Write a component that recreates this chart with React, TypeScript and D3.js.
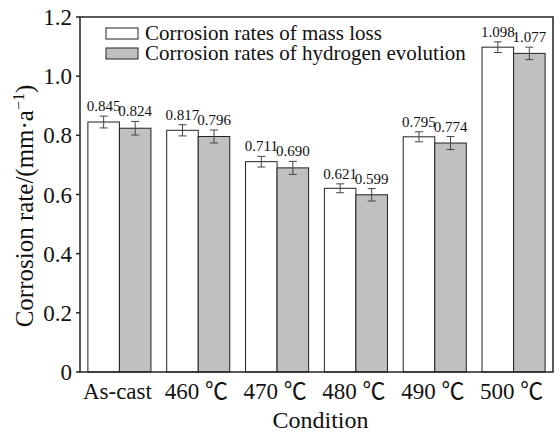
import React from "react";
import * as d3 from "d3";

// values
const conditions = ["As-cast", "460 ℃", "470 ℃", "480 ℃", "490 ℃", "500 ℃"];
const massLoss = [0.845, 0.817, 0.711, 0.621, 0.795, 1.098];
const massLossErr = [0.02, 0.019, 0.018, 0.015, 0.017, 0.018];
const hydrogen = [0.824, 0.796, 0.69, 0.599, 0.774, 1.077];
const hydrogenErr = [0.023, 0.022, 0.022, 0.021, 0.022, 0.021];
const seriesNames = [
  "Corrosion rates of mass loss",
  "Corrosion rates of hydrogen evolution",
];
const yTicks = [0, 0.2, 0.4, 0.6, 0.8, 1.0, 1.2];

const W = 560;
const H = 432;
const margin = { top: 17, right: 7, bottom: 60, left: 80 };
const serif = { fontFamily: "'Liberation Serif', 'Noto Sans CJK SC', serif" };

const App = () => {
  const innerW = W - margin.left - margin.right;
  const innerH = H - margin.top - margin.bottom;

  const x = d3
    .scaleBand()
    .domain(conditions)
    .range([0, innerW])
    .paddingInner(0.2)
    .paddingOuter(0.1);

  const xSub = d3
    .scaleBand()
    .domain(["mass", "hydrogen"])
    .range([0, x.bandwidth()]);

  const y = d3.scaleLinear().domain([0, 1.2]).range([innerH, 0]);

  const series = [
    { key: "mass", values: massLoss, errs: massLossErr, fill: "#ffffff" },
    { key: "hydrogen", values: hydrogen, errs: hydrogenErr, fill: "#c0c0c0" },
  ];

  return (
    <svg
      width={W}
      height={H}
      style={{ position: "absolute", left: 0, top: 0, background: "#fff" }}
    >
      <g transform={`translate(${margin.left},${margin.top})`}>
        {/* bars */}
        {series.map((s) =>
          conditions.map((c, i) => {
            const bx = x(c) + xSub(s.key);
            const bw = xSub.bandwidth();
            const cx = bx + bw / 2;
            const v = s.values[i];
            const e = s.errs[i];
            return (
              <g key={s.key + c}>
                <rect
                  x={bx}
                  y={y(v)}
                  width={bw}
                  height={innerH - y(v)}
                  fill={s.fill}
                  stroke="#222"
                  strokeWidth={1}
                />
                <g stroke="#444" strokeWidth={1}>
                  <line x1={cx} x2={cx} y1={y(v + e)} y2={y(v - e)} />
                  <line x1={cx - 4} x2={cx + 4} y1={y(v + e)} y2={y(v + e)} />
                  <line x1={cx - 4} x2={cx + 4} y1={y(v - e)} y2={y(v - e)} />
                </g>
                <text
                  x={cx}
                  y={y(v + e) - 5}
                  textAnchor="middle"
                  fontSize={15}
                  fill="#111"
                  style={serif}
                >
                  {v.toFixed(3)}
                </text>
              </g>
            );
          })
        )}

        {/* frame */}
        <rect
          x={0}
          y={0}
          width={innerW}
          height={innerH}
          fill="none"
          stroke="#222"
          strokeWidth={1.5}
        />

        {/* y axis ticks */}
        {yTicks.map((t) => (
          <g key={t} transform={`translate(0,${y(t)})`}>
            <line x1={-4} x2={0} stroke="#222" strokeWidth={1.5} />
            <text
              x={-8}
              dy="0.35em"
              textAnchor="end"
              fontSize={23}
              fill="#111"
              style={serif}
            >
              {t === 0 ? "0" : t.toFixed(1)}
            </text>
          </g>
        ))}

        {/* x tick labels */}
        {conditions.map((c) => (
          <text
            key={c}
            x={x(c) + x.bandwidth() / 2 - 2}
            y={innerH + 27}
            textAnchor="middle"
            fontSize={23}
            fill="#111"
            style={serif}
          >
            {c}
          </text>
        ))}

        {/* legend */}
        {series.map((s, i) => (
          <g key={s.key} transform={`translate(26,${11 + i * 20})`}>
            <rect
              width={32}
              height={11}
              fill={s.fill}
              stroke="#222"
              strokeWidth={1}
            />
            <text x={39} y={12} fontSize={21} fill="#111" style={serif}>
              {seriesNames[i]}
            </text>
          </g>
        ))}
      </g>

      {/* axis titles */}
      <text
        x={margin.left + innerW / 2 + 4}
        y={428}
        textAnchor="middle"
        fontSize={24}
        fill="#111"
        style={serif}
      >
        Condition
      </text>
      <text
        transform={`translate(33,206) rotate(-90)`}
        textAnchor="middle"
        fontSize={25}
        fill="#111"
        style={serif}
      >
        Corrosion rate/(mm·a
        <tspan dy={-9} fontSize={16}>
          −1
        </tspan>
        <tspan dy={9}>)</tspan>
      </text>
    </svg>
  );
};

export default App;
